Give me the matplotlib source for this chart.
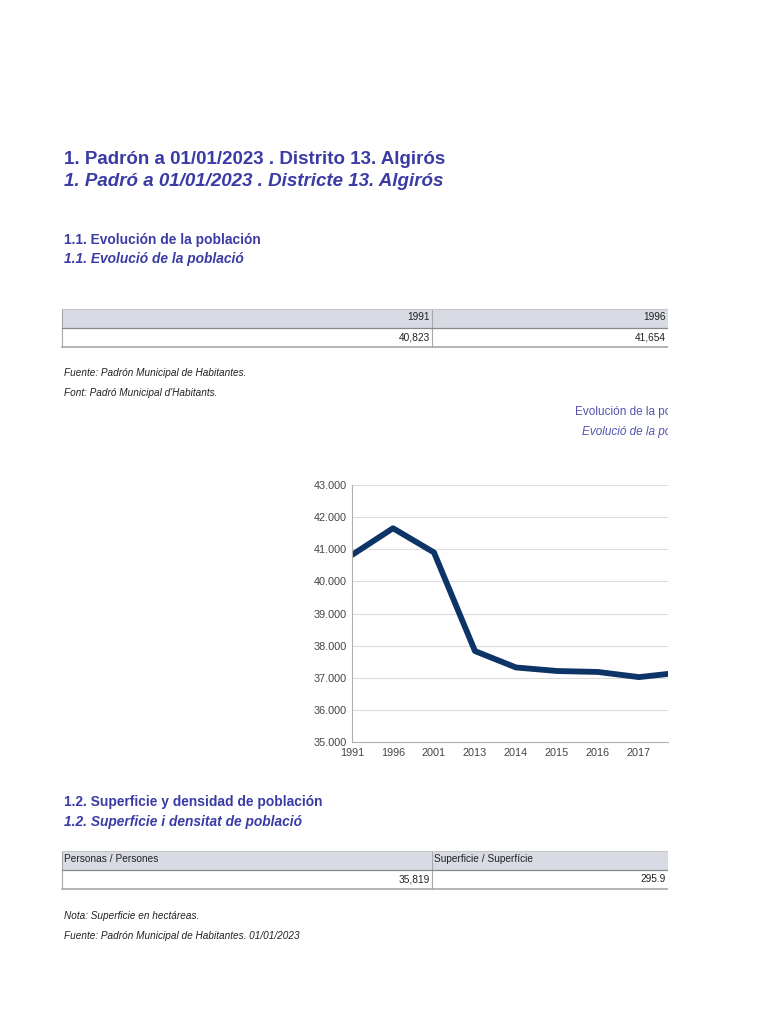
import matplotlib
matplotlib.use("Agg")
from matplotlib import pyplot as plt
from matplotlib.patches import Rectangle
from matplotlib.ticker import FuncFormatter

# datos
anyos = ['1991', '1996', '2001', '2013', '2014', '2015', '2016', '2017', '2018']
poblacion = [40823, 41654, 40900, 37830, 37320, 37210, 37180, 37020, 37160]
personas = 35819
superficie = 295.9

titulo_es = '1. Padrón a 01/01/2023 . Distrito 13. Algirós'
titulo_ca = '1. Padró a 01/01/2023 . Districte 13. Algirós'

AZUL = '#3b3ba6'
AZUL_CLARO = '#5454b2'
LINEA = '#0d3466'
GRIS_TXT = '#222222'
CABECERA = '#d8dbe4'
BORDE = '#a8a8a8'

plt.rcParams['font.family'] = ['Liberation Sans', 'DejaVu Sans']

W, H = 768, 1024
fig = plt.figure(figsize=(W / 100, H / 100), dpi=100)

# "pagina" en pixeles, recortada a la derecha en x=668
page = fig.add_axes([0, 0, 668 / W, 1])
page.set_xlim(0, 668)
page.set_ylim(H, 0)
page.axis('off')


def txt(x, y, s, **kw):
    kw.setdefault('va', 'center')
    kw.setdefault('clip_on', True)
    page.text(x, y, s, **kw)


txt(64, 159, titulo_es, fontsize=13.5, fontweight='bold', color=AZUL)
txt(64, 182, titulo_ca, fontsize=13.5, fontweight='bold', style='italic', color=AZUL)

txt(64, 240, '1.1. Evolución de la población', fontsize=9.9, fontweight='bold', color=AZUL)
txt(64, 259, '1.1. Evolució de la població', fontsize=9.9, fontweight='bold',
    style='italic', color=AZUL)


def tabla(y0, cab, vals, cab_align='right'):
    cols = [(62, 432), (432, 668)]
    page.add_patch(Rectangle((62, y0), 800, 18.5, fc=CABECERA, ec='none'))
    for (xa, xb), c, v in zip(cols, cab, vals):
        if cab_align == 'right':
            txt(xb - 2, y0 + 8.5, c, fontsize=7.3, ha='right', color=GRIS_TXT)
        else:
            txt(xa + 2, y0 + 8.5, c, fontsize=7.3, ha='left', color=GRIS_TXT)
        txt(xb - 2, y0 + 28, v, fontsize=7.3, ha='right', color=GRIS_TXT)
        page.plot([xa, xa], [y0, y0 + 38], color=BORDE, lw=0.8)
    page.plot([62, 800], [y0, y0], color='#c8c8c8', lw=0.8)
    page.plot([62, 800], [y0 + 18.5, y0 + 18.5], color='#888888', lw=0.9)
    page.plot([62, 800], [y0 + 38, y0 + 38], color=BORDE, lw=1.2)


tabla(309, anyos[:2], [f'{p:,}' for p in poblacion[:2]])

txt(64, 373, 'Fuente: Padrón Municipal de Habitantes.', fontsize=7.2, style='italic', color=GRIS_TXT)
txt(64, 393, "Font: Padró Municipal d'Habitants.", fontsize=7.2, style='italic', color=GRIS_TXT)

txt(575, 412, 'Evolución de la población', fontsize=8.5, color=AZUL_CLARO)
txt(582, 432, 'Evolució de la població', fontsize=8.5, style='italic', color=AZUL_CLARO)

txt(64, 802, '1.2. Superficie y densidad de población', fontsize=9.9, fontweight='bold', color=AZUL)
txt(64, 822, '1.2. Superficie i densitat de població', fontsize=9.9, fontweight='bold',
    style='italic', color=AZUL)

tabla(851, ['Personas / Persones', 'Superficie / Superfície'],
      [f'{personas:,}', f'{superficie}'], cab_align='left')

txt(64, 916, 'Nota: Superficie en hectáreas.', fontsize=7.2, style='italic', color=GRIS_TXT)
txt(64, 936, 'Fuente: Padrón Municipal de Habitantes. 01/01/2023', fontsize=7.2,
    style='italic', color=GRIS_TXT)

# grafico
ax = fig.add_axes([352 / W, 1 - 742 / H, (668 - 352) / W, (742 - 485) / H])
x = list(range(len(anyos)))
xmax = 316 / 41
ax.plot(x, poblacion, color=LINEA, lw=4.2, solid_joinstyle='round',
        solid_capstyle='round', clip_on=True)
ax.set_xlim(0, xmax)
ax.set_ylim(35000, 43000)
ax.set_yticks(range(35000, 43001, 1000))
ax.yaxis.set_major_formatter(FuncFormatter(lambda v, p: f'{int(v):,}'.replace(',', '.')))
visibles = [i for i in x if i <= xmax]
ax.set_xticks(visibles)
ax.set_xticklabels([anyos[i] for i in visibles])
ax.grid(axis='y', color='#dcdcdc', lw=0.8)
ax.set_axisbelow(True)
ax.tick_params(length=0, labelsize=7.8, colors='#444444', pad=4)
for s in ['top', 'right']:
    ax.spines[s].set_visible(False)
ax.spines['left'].set_color('#b0b0b0')
ax.spines['bottom'].set_color('#b0b0b0')

fig.savefig('out.png', dpi=100)
